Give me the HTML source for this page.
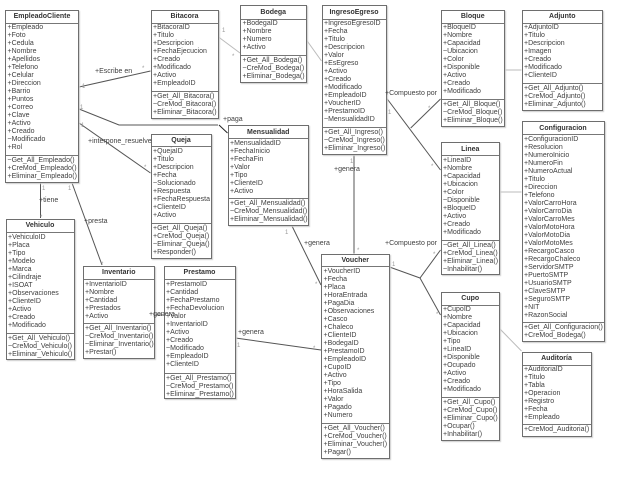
<!DOCTYPE html>
<html><head><meta charset="utf-8"><style>
html,body{margin:0;padding:0;background:#fff}
#r{position:relative;width:626px;height:480px;overflow:hidden;background:#fff;font:7px/8px "Liberation Sans",sans-serif;color:#3f3f3f;filter:blur(.3px)}
.c{position:absolute;box-sizing:border-box;border:1px solid #6e6e6e;background:#fff;box-shadow:1px 1px 1px #ccc}
.c b{position:absolute;left:0;right:0;top:2.500px;text-align:center;color:#333;font-weight:bold}
.c i{position:absolute;left:0;right:0;height:1px;background:#777}
.c p{position:absolute;left:1.500px;margin:0;white-space:nowrap}
.t{position:absolute;white-space:nowrap}
.n{position:absolute;color:#999;font-size:6px}
svg{position:absolute;left:0;top:0}
</style></head><body><div id="r">
<svg width="626" height="480" fill="none">
<g stroke="#555" stroke-width="1">
<path d="M79 87L150.500 71"/>
<path d="M79 109L119 125H218"/>
<path d="M79 123L150.500 173"/>
<path d="M40.500 183V218"/>
<path d="M72 183L102 265"/>
<path d="M386.500 98L440.500 170"/>
<path d="M410.700 128L440.500 99"/>
<path d="M354 154.500V253.500"/>
<path d="M292 226L321 285"/>
<path d="M235.500 338L321 350"/>
<path d="M155 315H163.500"/>
<path d="M389.500 267L420 278L440.500 250"/>
<path d="M420 278L440.500 315"/>
</g>
<path d="M219 125L227.500 133" stroke="#222"/>
<g stroke="#bbb" stroke-width="1">
<path d="M218.500 37L240 53"/>
<path d="M306.500 40L321.500 61"/>
<path d="M505 70H521.500"/>
<path d="M500 192H521.500"/>
<path d="M500 329L521.500 351"/>
</g>
</svg>

<div class="c" style="left:5px;top:9.500px;width:74px;height:173.500px"><b>EmpleadoCliente</b><i style="top:12.500px"></i><p style="top:13.800px">+Empleado<br>+Foto<br>+Cedula<br>+Nombre<br>+Apellidos<br>+Telefono<br>+Celular<br>+Direccion<br>+Barrio<br>+Puntos<br>+Correo<br>+Clave<br>+Activo<br>+Creado<br>~Modificado<br>+Rol</p><i style="top:144px"></i><p style="top:146px">~Get_All_Empleado()<br>+CreMod_Empleado()<br>+Eliminar_Empleado()</p></div>

<div class="c" style="left:150.500px;top:9.500px;width:68px;height:109.500px"><b>Bitacora</b><i style="top:12px"></i><p style="top:13.800px">+BitacoraID<br>+Titulo<br>+Descripcion<br>+FechaEjecucion<br>+Creado<br>+Modificado<br>+Activo<br>+EmpleadoID</p><i style="top:80.500px"></i><p style="top:82.500px">+Get_All_Bitacora()<br>~CreMod_Bitacora()<br>+Eliminar_Bitacora()</p></div>

<div class="c" style="left:150.500px;top:133.500px;width:61px;height:125px"><b>Queja</b><i style="top:11.500px"></i><p style="top:13.500px">+QuejaID<br>+Titulo<br>+Descripcion<br>+Fecha<br>~Solucionado<br>+Respuesta<br>+FechaRespuesta<br>+ClienteID<br>+Activo</p><i style="top:88.500px"></i><p style="top:90.500px">+Get_All_Queja()<br>+CreMod_Queja()<br>~Eliminar_Queja()<br>+Responder()</p></div>

<div class="c" style="left:240px;top:5px;width:66.500px;height:77.500px"><b>Bodega</b><i style="top:12.500px"></i><p style="top:14px">+BodegaID<br>+Nombre<br>+Numero<br>+Activo</p><i style="top:48.500px"></i><p style="top:50.500px">+Get_All_Bodega()<br>~CreMod_Bodega()<br>+Eliminar_Bodega()</p></div>

<div class="c" style="left:321.500px;top:5px;width:65px;height:149.500px"><b>IngresoEgreso</b><i style="top:12.500px"></i><p style="top:14px">+IngresoEgresoID<br>+Fecha<br>+Titulo<br>+Descripcion<br>+Valor<br>+EsEgreso<br>+Activo<br>+Creado<br>+Modificado<br>+EmpleadoID<br>+VoucherID<br>+PrestamoID<br>~MensualidadID</p><i style="top:121px"></i><p style="top:123px">+Get_All_Ingreso()<br>~CreMod_Ingreso()<br>+Eliminar_Ingreso()</p></div>

<div class="c" style="left:227.500px;top:125px;width:81.500px;height:101px"><b>Mensualidad</b><i style="top:12px"></i><p style="top:13.500px">+MensualidadID<br>+FechaInicio<br>+FechaFin<br>+Valor<br>+Tipo<br>+ClienteID<br>+Activo</p><i style="top:72px"></i><p style="top:74px">+Get_All_Mensualidad()<br>~CreMod_Mensualidad()<br>+Eliminar_Mensualidad()</p></div>

<div class="c" style="left:440.500px;top:9.500px;width:64.500px;height:117.500px"><b>Bloque</b><i style="top:12px"></i><p style="top:13.500px">+BloqueID<br>+Nombre<br>+Capacidad<br>~Ubicacion<br>+Color<br>+Disponible<br>+Activo<br>+Creado<br>+Modificado</p><i style="top:88.500px"></i><p style="top:90.500px">+Get_All_Bloque()<br>~CreMod_Bloque()<br>+Eliminar_Bloque()</p></div>

<div class="c" style="left:521.500px;top:9.500px;width:81.500px;height:101.500px"><b>Adjunto</b><i style="top:12px"></i><p style="top:13.500px">+AdjuntoID<br>+Titulo<br>+Descripcion<br>+Imagen<br>+Creado<br>+Modificado<br>+ClienteID</p><i style="top:72.500px"></i><p style="top:74.500px">+Get_All_Adjunto()<br>+CreMod_Adjunto()<br>+Eliminar_Adjunto()</p></div>

<div class="c" style="left:521.500px;top:121px;width:83px;height:221px"><b>Configuracion</b><i style="top:12px"></i><p style="top:13.500px">+ConfiguracionID<br>+Resolucion<br>+NumeroInicio<br>+NumeroFin<br>+NumeroActual<br>+Titulo<br>+Direccion<br>+Telefono<br>+ValorCarroHora<br>+ValorCarroDia<br>+ValorCarroMes<br>+ValorMotoHora<br>+ValorMotoDia<br>+ValorMotoMes<br>+RecargoCasco<br>+RecargoChaleco<br>+ServidorSMTP<br>+PuertoSMTP<br>+UsuarioSMTP<br>+ClaveSMTP<br>+SeguroSMTP<br>+NIT<br>+RazonSocial</p><i style="top:200px"></i><p style="top:202px">+Get_All_Configuracion()<br>+CreMod_Bodega()</p></div>

<div class="c" style="left:440.500px;top:142px;width:59.500px;height:133px"><b>Linea</b><i style="top:12px"></i><p style="top:13.500px">+LineaID<br>+Nombre<br>+Capacidad<br>+Ubicacion<br>+Color<br>~Disponible<br>+BloqueID<br>+Activo<br>+Creado<br>+Modificado</p><i style="top:97px"></i><p style="top:99px">~Get_All_Linea()<br>+CreMod_Linea()<br>+Eliminar_Linea()<br>~Inhabilitar()</p></div>

<div class="c" style="left:440.500px;top:291.500px;width:59.500px;height:149px"><b>Cupo</b><i style="top:12px"></i><p style="top:13.500px">+CupoID<br>+Nombre<br>+Capacidad<br>+Ubicacion<br>+Tipo<br>+LineaID<br>+Disponible<br>+Ocupado<br>+Activo<br>+Creado<br>+Modificado</p><i style="top:104.500px"></i><p style="top:106.500px">+Get_All_Cupo()<br>+CreMod_Cupo()<br>+Eliminar_Cupo()<br>+Ocupar()<br>+Inhabilitar()</p></div>

<div class="c" style="left:521.500px;top:351.500px;width:70px;height:85px"><b>Auditoría</b><i style="top:12.500px"></i><p style="top:13.500px">+AuditoriaID<br>+Titulo<br>+Tabla<br>+Operacion<br>+Registro<br>+Fecha<br>+Empleado</p><i style="top:71.500px"></i><p style="top:73.500px">+CreMod_Auditoria()</p></div>

<div class="c" style="left:5.500px;top:218.500px;width:69px;height:141.500px"><b>Vehiculo</b><i style="top:12.500px"></i><p style="top:14.500px">+VehiculoID<br>+Placa<br>+Tipo<br>+Modelo<br>+Marca<br>+Cilindraje<br>+ISOAT<br>+Observaciones<br>+ClienteID<br>+Activo<br>+Creado<br>+Modificado</p><i style="top:113px"></i><p style="top:115px">+Get_All_Vehiculo()<br>~CreMod_Vehiculo()<br>+Eliminar_Vehiculo()</p></div>

<div class="c" style="left:82.500px;top:265.500px;width:72.500px;height:93.500px"><b>Inventario</b><i style="top:12.500px"></i><p style="top:14.500px">+InventarioID<br>+Nombre<br>+Cantidad<br>+Prestados<br>+Activo</p><i style="top:56.500px"></i><p style="top:58.500px">+Get_All_Inventario()<br>~CreMod_Inventario()<br>~Eliminar_Inventario()<br>+Prestar()</p></div>

<div class="c" style="left:163.500px;top:265.500px;width:72px;height:133.500px"><b>Prestamo</b><i style="top:12.500px"></i><p style="top:14.500px">+PrestamoID<br>+Cantidad<br>+FechaPrestamo<br>+FechaDevolucion<br>+Valor<br>+InventarioID<br>+Activo<br>+Creado<br>~Modificado<br>+EmpleadoID<br>+ClienteID</p><i style="top:106px"></i><p style="top:108px">+Get_All_Prestamo()<br>~CreMod_Prestamo()<br>+Eliminar_Prestamo()</p></div>

<div class="c" style="left:321px;top:253.500px;width:68.500px;height:205px"><b>Voucher</b><i style="top:11.500px"></i><p style="top:13.500px">+VoucherID<br>+Fecha<br>+Placa<br>+HoraEntrada<br>+PagaDia<br>+Observaciones<br>+Casco<br>+Chaleco<br>+ClienteID<br>+BodegaID<br>+PrestamoID<br>+EmpleadoID<br>+CupoID<br>+Activo<br>+Tipo<br>+HoraSalida<br>+Valor<br>+Pagado<br>+Numero</p><i style="top:168px"></i><p style="top:170px">+Get_All_Voucher()<br>+CreMod_Voucher()<br>+Eliminar_Voucher()<br>+Pagar()</p></div>

<div class="t" style="left:95px;top:68px">+Escribe en</div>
<div class="t" style="left:88px;top:138px">+interpone_resuelve</div>
<div class="t" style="left:223px;top:116px">+paga</div>
<div class="t" style="left:39px;top:197px">+tiene</div>
<div class="t" style="left:84px;top:218px">+presta</div>
<div class="t" style="left:149px;top:311px">+genera</div>
<div class="t" style="left:334px;top:166px">+genera</div>
<div class="t" style="left:304px;top:240px">+genera</div>
<div class="t" style="left:238px;top:329px">+genera</div>
<div class="t" style="left:385px;top:90px">+Compuesto por</div>
<div class="t" style="left:385px;top:240px">+Compuesto por</div>

<div class="n" style="left:82px;top:83px">1</div><div class="n" style="left:142px;top:65px">*</div>
<div class="n" style="left:80px;top:104px">1</div><div class="n" style="left:81px;top:122px">1</div>
<div class="n" style="left:144px;top:164px">*</div><div class="n" style="left:42px;top:185px">1</div>
<div class="n" style="left:68px;top:185px">1</div><div class="n" style="left:40px;top:214px">*</div>
<div class="n" style="left:101px;top:261px">*</div><div class="n" style="left:222px;top:27px">1</div>
<div class="n" style="left:232px;top:53px">*</div><div class="n" style="left:388px;top:109px">1</div>
<div class="n" style="left:428px;top:105px">*</div><div class="n" style="left:431px;top:163px">*</div>
<div class="n" style="left:350px;top:158px">1</div><div class="n" style="left:357px;top:247px">*</div>
<div class="n" style="left:285px;top:229px">1</div><div class="n" style="left:315px;top:281px">*</div>
<div class="n" style="left:237px;top:342px">1</div><div class="n" style="left:313px;top:345px">*</div>
<div class="n" style="left:392px;top:261px">1</div><div class="n" style="left:433px;top:251px">*</div>
<div class="n" style="left:436px;top:311px">*</div>
</div></body></html>
